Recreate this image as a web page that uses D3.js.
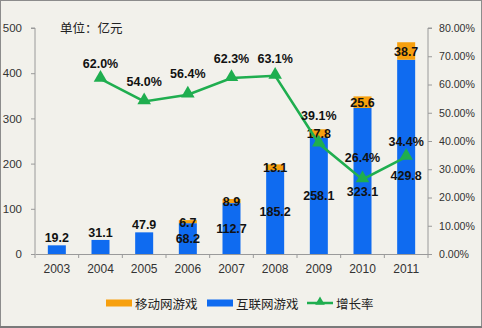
<!DOCTYPE html>
<html><head><meta charset="utf-8">
<script src="https://cdn.jsdelivr.net/npm/d3@7"></script>
<style>html,body{margin:0;padding:0;background:#fff}svg{display:block}</style>
</head><body>
<script>
const years = ["2003","2004","2005","2006","2007","2008","2009","2010","2011"];
const internet = [19.2, 31.1, 47.9, 68.2, 112.7, 185.2, 258.1, 323.1, 429.8];
const mobile = [0, 0, 0, 6.7, 8.9, 13.1, 17.8, 25.6, 38.7];
const growth = [null, 62.0, 54.0, 56.4, 62.3, 63.1, 39.1, 26.4, 34.4];
const leftTicks = [0, 100, 200, 300, 400, 500];
const rightTicks = [0, 10, 20, 30, 40, 50, 60, 70, 80];

const W = 482, H = 328;
const svg = d3.select("body").append("svg").attr("width", W).attr("height", H);
svg.append("rect").attr("x",0.5).attr("y",0.5).attr("width",W-1).attr("height",H-2)
  .attr("fill","#F2F1EB").attr("stroke","#8c8c8c").attr("stroke-width",1);
svg.append("line").attr("x1",0).attr("x2",W).attr("y1",H-1).attr("y2",H-1).attr("stroke","#7a7a7a").attr("stroke-width",2);

const L = 35, R = 428, T = 28, B = 254;
const x = d3.scaleBand().domain(years).range([L, R]);
const yL = d3.scaleLinear().domain([0, 500]).range([B, T]);
const yR = d3.scaleLinear().domain([0, 80]).range([B, T]);
const axisColor = "#9a9a9a";
const font = "'Liberation Sans', Arial, sans-serif";

// left axis
const gl = svg.append("g").attr("transform", `translate(${L},0)`)
  .call(d3.axisLeft(yL).tickValues(leftTicks).tickSize(4).tickPadding(9));
// right axis
const gr = svg.append("g").attr("transform", `translate(${R},0)`)
  .call(d3.axisRight(yR).tickValues(rightTicks).tickSize(4).tickPadding(7).tickFormat(d => d.toFixed(2) + "%"));
[gl, gr].forEach(g => {
  g.select(".domain").attr("stroke", axisColor);
  g.selectAll(".tick line").attr("stroke", axisColor);
  g.selectAll("text").attr("font-family", font).attr("fill", "#333");
});
gl.selectAll("text").attr("font-size", 11.5);
gr.selectAll("text").attr("font-size", 10.6);
gl.select(".domain").attr("d", `M-4,${yL(500)}H0V${yL(0)}`);
gr.select(".domain").attr("d", `M4,${yR(80)}H0V${yR(0)}`);

// x axis
const gx = svg.append("g").attr("transform", `translate(0,${B})`)
  .call(d3.axisBottom(x).tickSize(0).tickPadding(10));
gx.select(".domain").attr("stroke", axisColor);
gx.selectAll("text").attr("font-family", font).attr("font-size", 12).attr("fill", "#333");
const bounds = [L].concat(years.map(y => x(y) + x.bandwidth()));
svg.append("g").selectAll("line").data(bounds).join("line")
  .attr("x1", d => d).attr("x2", d => d).attr("y1", B).attr("y2", B + 4).attr("stroke", axisColor);

// bars
const bw = 18;
const cx = y => x(y) + x.bandwidth() / 2;
svg.append("g").selectAll("rect").data(years).join("rect")
  .attr("x", y => cx(y) - bw/2).attr("width", bw)
  .attr("y", (y,i) => yL(internet[i])).attr("height", (y,i) => B - yL(internet[i]))
  .attr("fill", "#0F6BF0");
svg.append("g").selectAll("rect").data(years.filter((y,i)=>mobile[i]>0)).join("rect")
  .attr("x", y => cx(y) - bw/2).attr("width", bw)
  .attr("y", y => { const i = years.indexOf(y); return yL(internet[i] + mobile[i]); })
  .attr("height", y => { const i = years.indexOf(y); return yL(internet[i]) - yL(internet[i] + mobile[i]); })
  .attr("fill", "#F7A00E");

// labels
const lab = (xx, yy, t) => svg.append("text").attr("x", xx).attr("y", yy)
  .attr("text-anchor", "middle").attr("dominant-baseline", "central")
  .attr("font-family", font).attr("font-size", 12.5).attr("font-weight", "bold").attr("fill", "#111").text(t);
const internetShift = {"2010": 11, "2011": 19};
years.forEach((y, i) => {
  const top = yL(internet[i]);
  const h = B - top;
  let ly = h < 25 ? top - 7 : (top + B) / 2 + (internetShift[y] || 0);
  lab(cx(y), ly, internet[i].toFixed(1));
  if (mobile[i] > 0) {
    lab(cx(y), (yL(internet[i]) + yL(internet[i] + mobile[i])) / 2 + 1, mobile[i].toFixed(1));
  }
});

// growth line
const gdata = years.map((y, i) => ({y, v: growth[i]})).filter(d => d.v != null);
const green = "#1FAE4F";
svg.append("path").datum(gdata)
  .attr("d", d3.line().x(d => cx(d.y)).y(d => yR(d.v)))
  .attr("fill", "none").attr("stroke", green).attr("stroke-width", 2.5);
const tri = d3.symbol().type(d3.symbolTriangle).size(80);
svg.append("g").selectAll("path").data(gdata).join("path")
  .attr("d", tri).attr("transform", d => `translate(${cx(d.y)},${yR(d.v) - 1})`).attr("fill", green);
const growthShift = {"2004": -15, "2005": -19, "2006": -21, "2007": -19, "2008": -17, "2009": -28, "2010": -21, "2011": -15};
gdata.forEach(d => {
  lab(cx(d.y), yR(d.v) + growthShift[d.y], d.v.toFixed(1) + "%");
});

// unit
svg.append("text").attr("x", 60).attr("y", 27).attr("dominant-baseline", "central")
  .attr("font-family", "'Noto Sans CJK SC', sans-serif").attr("font-size", 12.5).attr("fill", "#222").text("单位：亿元");

// legend
const lg = svg.append("g").attr("font-family", "'Noto Sans CJK SC', sans-serif").attr("font-size", 12.5).attr("fill", "#222");
const ly0 = 303;
lg.append("rect").attr("x", 106).attr("y", ly0 - 3.5).attr("width", 26).attr("height", 7).attr("fill", "#F7A00E");
lg.append("text").attr("x", 135).attr("y", ly0).attr("dominant-baseline", "central").text("移动网游戏");
lg.append("rect").attr("x", 207).attr("y", ly0 - 3.5).attr("width", 26).attr("height", 7).attr("fill", "#0F6BF0");
lg.append("text").attr("x", 236).attr("y", ly0).attr("dominant-baseline", "central").text("互联网游戏");
lg.append("line").attr("x1", 307).attr("x2", 333).attr("y1", ly0).attr("y2", ly0).attr("stroke", green).attr("stroke-width", 2.5);
lg.append("path").attr("d", d3.symbol().type(d3.symbolTriangle).size(40)).attr("transform", `translate(320,${ly0 - 1})`).attr("fill", green);
lg.append("text").attr("x", 336).attr("y", ly0).attr("dominant-baseline", "central").text("增长率");
</script>
</body></html>
